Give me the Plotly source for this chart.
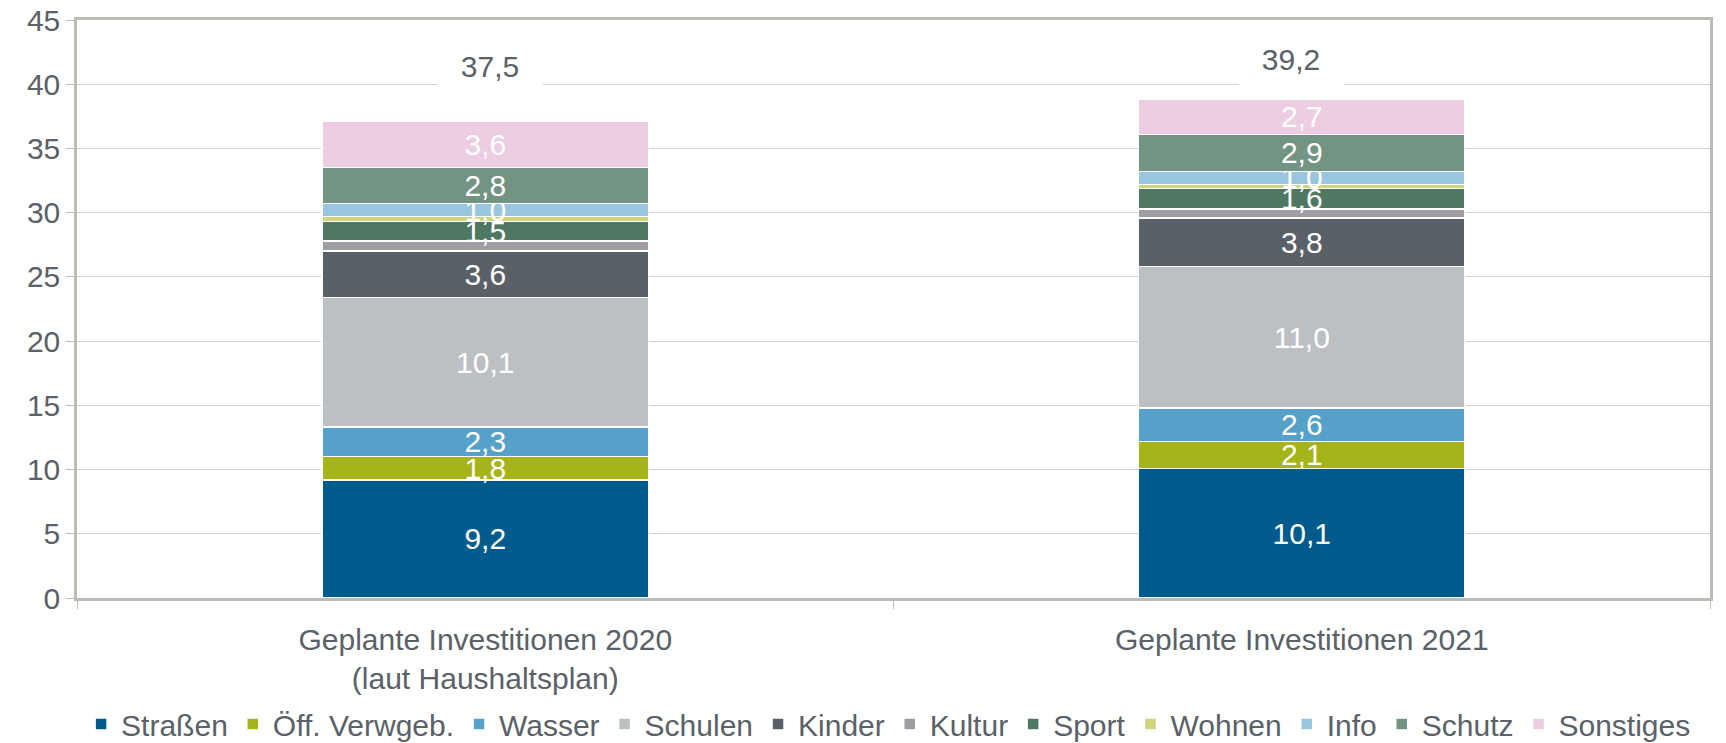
import plotly.graph_objects as go

categories = ["Geplante Investitionen 2020<br>(laut Haushaltsplan)", "Geplante Investitionen 2021"]

series_names = ["Straßen", "Öff. Verwgeb.", "Wasser", "Schulen", "Kinder", "Kultur",
                "Sport", "Wohnen", "Info", "Schutz", "Sonstiges"]
strassen = [9.2, 10.1]
oeff_verwgeb = [1.8, 2.1]
wasser = [2.3, 2.6]
schulen = [10.1, 11.0]
kinder = [3.6, 3.8]
kultur = [0.8, 0.7]
sport = [1.5, 1.6]
wohnen = [0.4, 0.3]
info = [1.0, 1.0]
schutz = [2.8, 2.9]
sonstiges = [3.6, 2.7]
totals = [37.5, 39.2]

series_values = [strassen, oeff_verwgeb, wasser, schulen, kinder, kultur,
                 sport, wohnen, info, schutz, sonstiges]
colors = ["#005B8D", "#A5B418", "#55A1C9", "#BDC0C3", "#596067", "#9C9EA1",
          "#4E7862", "#CDD47C", "#99C6DE", "#739383", "#EDCDE2"]
# small segments carry no label in the original
show_label = [True, True, True, True, True, False, True, False, True, True, True]

FONT = "Liberation Sans, Arial, sans-serif"
FS = 30
TEXT = "#5A6168"
AXIS = "#BEBAB5"
GRID = "#D3D3D3"

fig = go.Figure()
for name, vals, col, lab in zip(series_names, series_values, colors, show_label):
    fig.add_trace(go.Bar(
        x=categories, y=vals, name=name,
        marker=dict(color=col, line=dict(color="white", width=1.5)),
        texttemplate="%{y:.1f}" if lab else "",
        textposition="inside", insidetextanchor="middle",
        constraintext="none", cliponaxis=False,
        textfont=dict(color="white", size=FS, family=FONT),
        hoverinfo="name+y",
    ))

# total labels sit on white boxes above the stacks
shifts = [(5, 50), (-11, 36)]
for cat, tot, (dx, dy) in zip(categories, totals, shifts):
    fig.add_annotation(
        x=cat, y=tot, text=f"{tot:.1f}".replace(".", ","),
        showarrow=False, xshift=dx, yshift=dy, yanchor="middle",
        bgcolor="white", width=102, height=56,
        font=dict(color=TEXT, size=FS, family=FONT),
    )

# page body has an 8px margin, so the figure is 8px smaller each way
fig.update_layout(
    width=1718, height=735,
    margin=dict(l=69, r=16, t=12, b=145, autoexpand=False),
    barmode="stack", bargap=0.6,
    separators=",.",
    paper_bgcolor="white", plot_bgcolor="white",
    font=dict(family=FONT, size=FS, color=TEXT),
    showlegend=True,
    legend=dict(
        orientation="h", x=0.497, xanchor="center",
        yref="container", y=0.026, yanchor="middle",
        traceorder="normal", font=dict(size=FS, color=TEXT),
        itemclick=False, itemdoubleclick=False,
    ),
)
fig.update_yaxes(
    range=[0, 45], dtick=5, showgrid=True, gridcolor=GRID, gridwidth=1,
    zeroline=False, showline=True, linecolor=AXIS, linewidth=2.5, mirror=True,
    ticks="outside", ticklen=8, tickcolor=AXIS, tickwidth=1,
    tickfont=dict(size=FS, color=TEXT), automargin=False,
    ticklabeloverflow="allow",
)
fig.update_xaxes(
    type="category", showline=True, linecolor=AXIS, linewidth=2.5, mirror=True,
    ticks="outside", tickson="boundaries", ticklen=8, tickcolor=AXIS, tickwidth=1,
    ticklabelstandoff=13,
    tickfont=dict(size=FS, color=TEXT), automargin=False,
)

fig.write_html("out.html")
